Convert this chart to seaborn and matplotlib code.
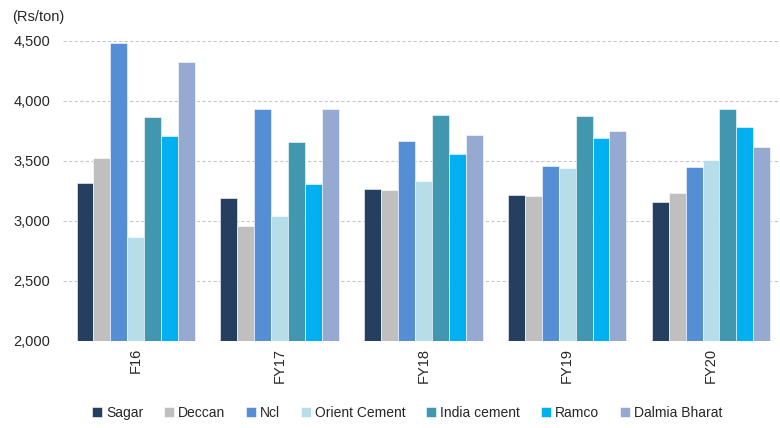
import pandas as pd
import matplotlib
matplotlib.use('Agg')
import matplotlib.pyplot as plt
import seaborn as sns

# 데이터
years = ['F16', 'FY17', 'FY18', 'FY19', 'FY20']
companies = ['Sagar', 'Deccan', 'Ncl', 'Orient Cement', 'India cement', 'Ramco', 'Dalmia Bharat']
sagar = [3320, 3190, 3265, 3215, 3160]
deccan = [3525, 2960, 3255, 3205, 3235]
ncl = [4480, 3935, 3670, 3460, 3450]
orient = [2870, 3045, 3335, 3445, 3510]
india = [3865, 3660, 3880, 3875, 3930]
ramco = [3705, 3305, 3555, 3695, 3780]
dalmia = [4325, 3930, 3720, 3750, 3620]
colors = ['#243F60', '#BFBFBF', '#558ED5', '#B7DEE8', '#4197AF', '#00B0F0', '#95A9D1']

rows = []
for name, vals in zip(companies, [sagar, deccan, ncl, orient, india, ramco, dalmia]):
    for y, v in zip(years, vals):
        rows.append({'year': y, 'company': name, 'value': v})
df = pd.DataFrame(rows)

sns.set_style('white')
plt.rcParams['font.family'] = ['Liberation Sans', 'DejaVu Sans']

fig = plt.figure(figsize=(7.8, 4.28), dpi=100)
ax = fig.add_axes([63/780, 1 - 341/428, 1 - 63/780, 300/428])

sns.barplot(data=df, x='year', y='value', hue='company', order=years, hue_order=companies,
            palette=colors, saturation=1, width=0.823, gap=0, edgecolor='white', linewidth=0.4,
            legend=True, ax=ax)

ax.set_ylim(2000, 4500)
ax.set_xlim(-0.506, 4.48)
ax.set_yticks([2000, 2500, 3000, 3500, 4000, 4500])
ax.set_yticklabels([f'{t:,}' for t in [2000, 2500, 3000, 3500, 4000, 4500]], fontsize=10.5)
ax.tick_params(axis='y', length=0, pad=9)
ax.tick_params(axis='x', length=0, pad=5, labelsize=10.5, labelrotation=90)
ax.yaxis.grid(True, linestyle=(0, (3, 2)), color='#C8C8C8', linewidth=0.8)
ax.set_axisbelow(True)
for s in ax.spines.values():
    s.set_visible(False)
ax.set_xlabel('')
ax.set_ylabel('')

fig.text(12/780, 1 - 17/428, '(Rs/ton)', fontsize=10.5, va='center', ha='left')

h, l = ax.get_legend_handles_labels()
ax.legend(h, l, loc='center', bbox_to_anchor=(0.522, 15/428), bbox_transform=fig.transFigure,
          ncol=7, frameon=False, fontsize=10, handlelength=0.7, handleheight=0.7,
          handletextpad=0.3, columnspacing=1.5, borderaxespad=0)

fig.savefig('out.png', dpi=100)
